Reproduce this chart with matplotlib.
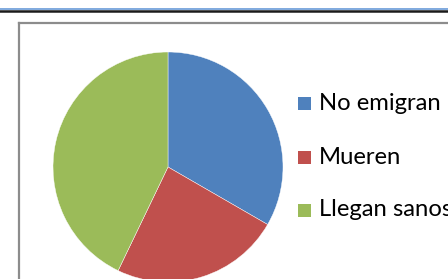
import matplotlib
matplotlib.use("Agg")
import matplotlib.pyplot as plt
from matplotlib.patches import Rectangle
from matplotlib.lines import Line2D

# data (fractions ~ 7/21, 5/21, 9/21)
labels = ['No emigran', 'Mueren', 'Llegan sanos']
values = [7, 5, 9]
colors = ['#4F81BD', '#C0504D', '#9BBB59']

W, H = 448, 279
DPI = 100

plt.rcParams['font.family'] = ['Lato', 'DejaVu Sans']


def px(x, y):
    # pixel coords (from top-left) -> figure fraction
    return x / W, 1 - y / H


def draw_frame(fig):
    # window-ish lines at the top
    fig.add_artist(Line2D([0, 1], [1 - 8.5 / H] * 2, color='#6A9BD8', lw=1.2,
                          transform=fig.transFigure))
    fig.add_artist(Line2D([0, 1], [1 - 11 / H] * 2, color='#1A1A1A', lw=1.8,
                          transform=fig.transFigure))
    # chart area border (runs off the right and bottom)
    fig.add_artist(Line2D([19 / W, 19 / W], [0, 1 - 22.5 / H], color='#8C8C8C',
                          lw=1.6, transform=fig.transFigure))
    fig.add_artist(Line2D([19 / W, 1], [1 - 22.5 / H] * 2, color='#8C8C8C',
                          lw=1.6, transform=fig.transFigure))


def draw_pie(fig):
    cx, cy, r = 168, 167, 115
    left, top = px(cx - r, cy - r)
    ax = fig.add_axes([left, top - 2 * r / H, 2 * r / W, 2 * r / H])
    ax.pie(values, colors=colors, startangle=90, counterclock=False,
           radius=1, wedgeprops=dict(linewidth=0.3, edgecolor='white'))
    ax.set_xlim(-1, 1)
    ax.set_ylim(-1, 1)
    ax.set_aspect('equal')
    ax.axis('off')


def draw_legend(fig):
    rows = [103, 157, 210]
    sq = 13
    for lab, col, y in zip(labels, colors, rows):
        x0, y0 = px(298, y + sq / 2)
        fig.add_artist(Rectangle((x0, y0), sq / W, sq / H, facecolor=col,
                                 edgecolor='none', transform=fig.transFigure))
        tx, ty = px(319, y)
        fig.text(tx, ty, lab, fontsize=17.2, color='black', va='center',
                 ha='left')


fig = plt.figure(figsize=(W / DPI, H / DPI), dpi=DPI)
fig.patch.set_facecolor('white')
draw_frame(fig)
draw_pie(fig)
draw_legend(fig)
fig.savefig('out.png', dpi=DPI)
